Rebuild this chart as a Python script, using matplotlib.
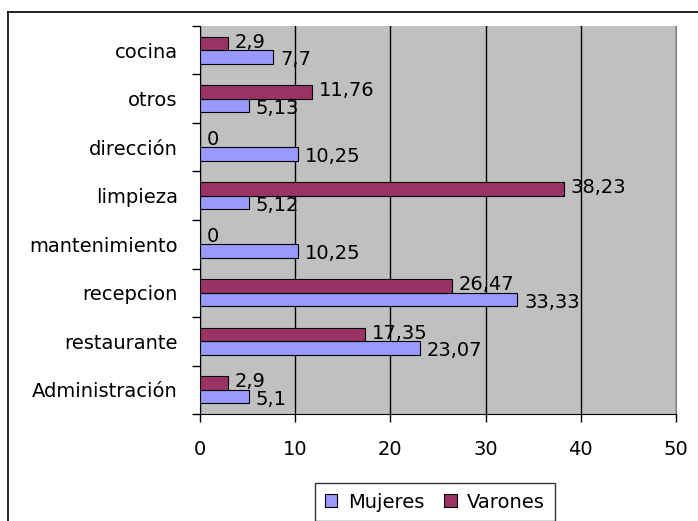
import matplotlib
matplotlib.use("Agg")
import matplotlib.pyplot as plt
from matplotlib.lines import Line2D
from matplotlib.patches import Patch
import numpy as np

categories = ["Administración", "restaurante", "recepcion", "mantenimiento",
              "limpieza", "dirección", "otros", "cocina"]
mujeres = [5.1, 23.07, 33.33, 10.25, 5.12, 10.25, 5.13, 7.7]
varones = [2.9, 17.35, 26.47, 0, 38.23, 0, 11.76, 2.9]
xticks = [0, 10, 20, 30, 40, 50]
series_names = ["Mujeres", "Varones"]

C_MUJ = "#9999FF"
C_VAR = "#993366"
BG = "#C0C0C0"

plt.rcParams['font.family'] = ['DejaVu Sans']
W, H = 698, 521
fig = plt.figure(figsize=(W / 100, H / 100), dpi=100)

# outer chart border (clipped at right and bottom)
fig.add_artist(Line2D([8 / W, 1.0], [1 - 12 / H, 1 - 12 / H], transform=fig.transFigure,
                      color="black", lw=1.2))
fig.add_artist(Line2D([8 / W, 8 / W], [0, 1 - 12 / H], transform=fig.transFigure,
                      color="black", lw=1.2))

ax = fig.add_axes([200 / W, 1 - 414 / H, 476 / W, 388 / H])
ax.set_facecolor(BG)

y = np.arange(len(categories))
h = 0.28
ax.barh(y - h / 2, mujeres, height=h, color=C_MUJ, edgecolor="black", linewidth=0.8, zorder=3)
ax.barh(y + h / 2, varones, height=h, color=C_VAR, edgecolor="black", linewidth=0.8, zorder=3)

def fmt(v):
    return ("%g" % v).replace(".", ",")

for yi, v in zip(y, mujeres):
    ax.annotate(fmt(v), (v, yi - h / 2), xytext=(5, -2), textcoords="offset points",
                va="center", ha="left", fontsize=14, zorder=4)
for yi, v in zip(y, varones):
    ax.annotate(fmt(v), (v, yi + h / 2), xytext=(5, 1), textcoords="offset points",
                va="center", ha="left", fontsize=14, zorder=4)

ax.set_xlim(0, 50)
ax.set_ylim(-0.5, len(categories) - 0.5)
ax.set_xticks(xticks)
ax.set_xticklabels([str(t) for t in xticks], fontsize=14)
ax.tick_params(axis="x", direction="out", length=6, width=1, pad=13)

ax.set_yticks(y)
ax.set_yticklabels(categories, fontsize=14)
ax.set_yticks(np.arange(-0.5, len(categories), 1.0), minor=True)
ax.tick_params(axis="y", which="major", length=0, pad=16)
ax.tick_params(axis="y", which="minor", direction="out", length=6, width=1)

ax.grid(axis="x", color="black", lw=1, zorder=1)
ax.spines["top"].set_visible(False)
ax.spines["right"].set_color("#808080")
ax.spines["left"].set_color("black")
ax.spines["bottom"].set_color("black")

handles = [Patch(facecolor=C_MUJ, edgecolor="black", lw=0.8),
           Patch(facecolor=C_VAR, edgecolor="black", lw=0.8)]
leg = fig.legend(handles, series_names, loc="upper left",
                 bbox_to_anchor=(315 / W, 1 - 483 / H), ncol=2, fontsize=14,
                 frameon=True, fancybox=False, edgecolor="black",
                 handlelength=0.65, handleheight=0.65, handletextpad=0.55,
                 columnspacing=1.0, borderpad=0.5, borderaxespad=0)
leg.get_frame().set_linewidth(1)

fig.savefig("out.png", dpi=100)
